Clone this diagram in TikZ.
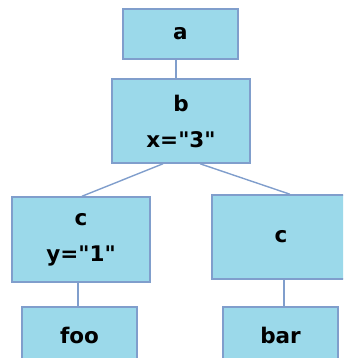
\documentclass[tikz,border=0pt]{standalone}
\usepackage{fontspec}
% plain family: no TeX ligature mapping, so " stays a straight quote
\newfontfamily\boxfont{DejaVu Sans}
\definecolor{boxfill}{RGB}{155,217,234}
\definecolor{boxline}{RGB}{128,158,204}
\begin{document}
\begin{tikzpicture}[x=1pt,y=-1pt,
  treebox/.style={draw=boxline, line width=1.5pt, fill=boxfill, inner sep=0pt,
    minimum width=#1, align=center,
    font=\boxfont\fontsize{21.5}{36}\selectfont\bfseries},
  treebox/.default=115pt,
  edge/.style={draw=boxline, line width=1.4pt}]
\useasboundingbox (0,0) rectangle (343,358);
\begin{scope}
\clip (0,0) rectangle (343,358);
\node[treebox, minimum height=50pt] (a) at (180.5,34) {a};
\node[treebox=138pt, minimum height=84pt] (b) at (181,121) {b\\x="3"};
\node[treebox=138pt, minimum height=85pt] (c1) at (81,239.5) {c\\y="1"};
\node[treebox=138pt, minimum height=84pt] (c2) at (281,237) {c};
\node[treebox, minimum height=56pt] (foo) at (79.5,335) {foo};
\node[treebox, minimum height=56pt] (bar) at (280.5,335) {bar};
\draw[edge] ([xshift=-4.5pt]a.south) -- ([xshift=-5pt]b.north);
\draw[edge] ([xshift=-18pt]b.south) -- ([xshift=1pt]c1.north);
\draw[edge] ([xshift=19pt]b.south) -- ([xshift=9pt]c2.north);
\draw[edge] ([xshift=-3pt]c1.south) -- ([xshift=-1.5pt]foo.north);
\draw[edge] ([xshift=3pt]c2.south) -- ([xshift=3.5pt]bar.north);
\end{scope}
\end{tikzpicture}
\end{document}
